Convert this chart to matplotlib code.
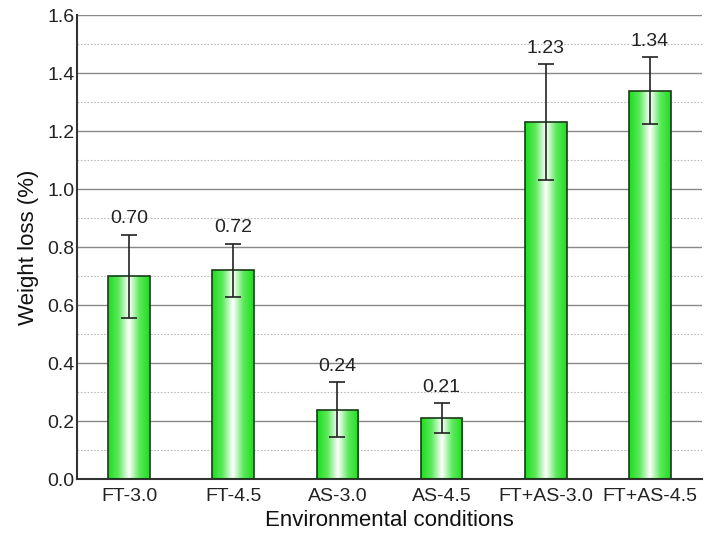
import numpy as np
import matplotlib.pyplot as plt
from matplotlib.colors import LinearSegmentedColormap
from matplotlib.patches import Rectangle

plt.rcParams['font.family'] = ['Liberation Sans', 'DejaVu Sans']

conditions = ["FT-3.0", "FT-4.5", "AS-3.0", "AS-4.5", "FT+AS-3.0", "FT+AS-4.5"]
weight_loss = [0.70, 0.72, 0.24, 0.21, 1.23, 1.34]
errors = [0.143, 0.092, 0.095, 0.052, 0.20, 0.116]
y_ticks = [0.0, 0.2, 0.4, 0.6, 0.8, 1.0, 1.2, 1.4, 1.6]

fig = plt.figure(figsize=(7.07, 5.39), dpi=100)
ax = fig.add_axes([0.109, 0.111, 0.884, 0.861])

x = np.arange(len(conditions))
width = 0.4

# green -> white -> green horizontal gradient for each bar
cmap = LinearSegmentedColormap.from_list("gw", ["#1fdc1f", "#5bea5b", "#ffffff", "#5bea5b", "#1fdc1f"])
grad = np.linspace(0, 1, 256).reshape(1, -1)

bars = ax.bar(x, weight_loss, width, color="none", edgecolor="#1a3a1a", linewidth=1.2, zorder=3)
for b in bars:
    x0, y0 = b.get_x(), b.get_y()
    w, h = b.get_width(), b.get_height()
    im = ax.imshow(grad, cmap=cmap, aspect="auto", extent=[x0, x0 + w, y0, y0 + h],
                   zorder=2.5, interpolation="bicubic")
    clip = Rectangle((x0, y0), w, h, transform=ax.transData)
    im.set_clip_path(clip)

ax.errorbar(x, weight_loss, yerr=errors, fmt="none", ecolor="#222222", elinewidth=1.2,
            capsize=6, capthick=1.2, zorder=4)

for xi, v, e in zip(x, weight_loss, errors):
    ax.text(xi, v + e + 0.025, f"{v:.2f}", ha="center", va="bottom", fontsize=14, color="#222222")

ax.set_xlim(-0.5, len(conditions) - 0.5)
ax.set_ylim(0, 1.6)
ax.set_yticks(y_ticks)
ax.set_yticklabels([f"{t:.1f}" for t in y_ticks])
ax.set_yticks(np.arange(0.1, 1.6, 0.2), minor=True)
ax.set_xticks(x)
ax.set_xticklabels(conditions)

ax.grid(axis="y", which="major", color="#888888", linewidth=1.0, zorder=0)
ax.grid(axis="y", which="minor", color="#bbbbbb", linewidth=0.8, linestyle=(0, (1.5, 1.5)), zorder=0)
ax.set_axisbelow(True)

for s in ["top", "right"]:
    ax.spines[s].set_visible(False)
for s in ["left", "bottom"]:
    ax.spines[s].set_color("#333333")
    ax.spines[s].set_linewidth(1.5)

ax.tick_params(axis="both", which="both", length=0, labelsize=14, colors="#222222", pad=6)
ax.tick_params(axis="y", pad=2)

ax.set_xlabel("Environmental conditions", fontsize=16, color="#111111", labelpad=4)
ax.set_ylabel("Weight loss (%)", fontsize=16, color="#111111", labelpad=6)

fig.savefig("out.png", dpi=100)
